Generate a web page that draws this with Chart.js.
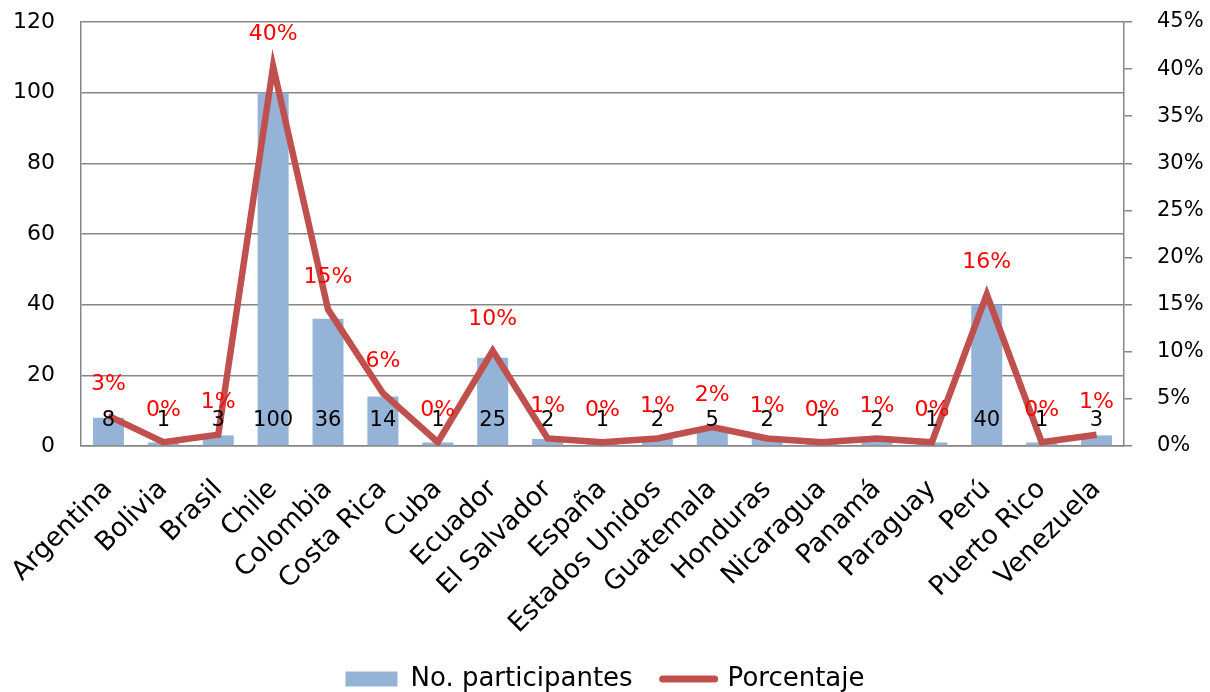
<!DOCTYPE html>
<html>
<head>
<meta charset="utf-8">
<script src="https://cdn.jsdelivr.net/npm/chart.js@4.4.1/dist/chart.umd.min.js"></script>
<style>
  html, body { margin: 0; padding: 0; background: #fff; overflow: hidden; }
</style>
</head>
<body>
<canvas id="myChart" width="1210" height="692"></canvas>
<script>
const paises = ['Argentina','Bolivia','Brasil','Chile','Colombia','Costa Rica','Cuba','Ecuador','El Salvador','España','Estados Unidos','Guatemala','Honduras','Nicaragua','Panamá','Paraguay','Perú','Puerto Rico','Venezuela']
const participantes = [8, 1, 3, 100, 36, 14, 1, 25, 2, 1, 2, 5, 2, 1, 2, 1, 40, 1, 3]
const porcentaje = [3.2, 0.4, 1.2, 40.3, 14.5, 5.6, 0.4, 10.1, 0.8, 0.4, 0.8, 2.0, 0.8, 0.4, 0.8, 0.4, 16.1, 0.4, 1.2]
const ticksIzq = [0, 20, 40, 60, 80, 100, 120]
const ticksDer = [0, 5, 10, 15, 20, 25, 30, 35, 40, 45]

const FONT = "'DejaVu Sans', sans-serif"
const GRIS = '#868686'

// etiquetas de datos (valores y porcentajes)
const etiquetas = {
    id: 'etiquetas',
    afterDatasetsDraw(chart) {
        const ctx = chart.ctx
        const yIzq = chart.scales.y
        ctx.save()
        ctx.textAlign = 'center'
        ctx.textBaseline = 'middle'
        const barras = chart.getDatasetMeta(0).data
        ctx.font = '21px ' + FONT
        ctx.fillStyle = '#000'
        barras.forEach((bar, i) => {
            ctx.fillText(participantes[i], bar.x, yIzq.getPixelForValue(0) - 25)
        })
        const puntos = chart.getDatasetMeta(1).data
        ctx.font = '22px ' + FONT
        ctx.fillStyle = '#FF0000'
        puntos.forEach((p, i) => {
            ctx.fillText(Math.round(porcentaje[i]) + '%', p.x, p.y - 32)
        })
        ctx.restore()
    }
}

// sin relleno extra por las etiquetas de los ejes
function sinPadding(scale) {
    scale.paddingTop = 0
    scale.paddingBottom = 0
    scale.paddingLeft = 0
    scale.paddingRight = 0
}

const ctx = document.getElementById('myChart')
new Chart(ctx, {
    data: {
        labels: paises,
        datasets: [{
            type: 'bar',
            label: 'No. participantes',
            data: participantes,
            backgroundColor: '#95B3D7',
            yAxisID: 'y',
            barPercentage: 0.565,
            categoryPercentage: 1,
            order: 2
        }, {
            type: 'line',
            label: 'Porcentaje',
            data: porcentaje,
            borderColor: '#C0504D',
            backgroundColor: '#C0504D',
            borderWidth: 6.5,
            pointRadius: 0,
            tension: 0,
            yAxisID: 'y1',
            order: 1
        }]
    },
    options: {
        responsive: false,
        animation: false,
        devicePixelRatio: 1,
        layout: { padding: { top: 22, right: 0, left: 0, bottom: -10 } },
        plugins: {
            tooltip: { enabled: false },
            legend: {
                position: 'bottom',
                labels: {
                    font: { family: FONT, size: 26 },
                    color: '#000',
                    usePointStyle: true,
                    pointStyleWidth: 52,
                    boxHeight: 15,
                    padding: 30,
                    generateLabels(chart) {
                        return [{
                            text: 'No. participantes', fillStyle: '#95B3D7', strokeStyle: '#95B3D7',
                            lineWidth: 0, pointStyle: 'rect', datasetIndex: 0, fontColor: '#000'
                        }, {
                            text: 'Porcentaje', fillStyle: '#C0504D', strokeStyle: '#C0504D',
                            lineWidth: 7, lineCap: 'round', pointStyle: 'line', datasetIndex: 1, fontColor: '#000'
                        }]
                    }
                }
            }
        },
        scales: {
            x: {
                offset: true,
                grid: { display: false },
                border: { color: GRIS, width: 1.5 },
                ticks: {
                    font: { family: FONT, size: 26.5 },
                    color: '#000',
                    minRotation: 45,
                    maxRotation: 45,
                    autoSkip: false,
                    padding: 20
                },
                afterFit(scale) {
                    scale.height = 190
                    sinPadding(scale)
                }
            },
            y: {
                position: 'left',
                min: 0,
                max: 120,
                afterBuildTicks(scale) { scale.ticks = ticksIzq.map(v => ({ value: v })) },
                grid: { color: GRIS, lineWidth: 1.5, drawTicks: false },
                border: { color: GRIS, width: 1.5 },
                ticks: {
                    font: { family: FONT, size: 22 },
                    color: '#000',
                    padding: 26
                },
                afterFit(scale) {
                    scale.width = 81
                    sinPadding(scale)
                }
            },
            y1: {
                position: 'right',
                min: 0,
                max: 45,
                afterBuildTicks(scale) { scale.ticks = ticksDer.map(v => ({ value: v })) },
                grid: { drawOnChartArea: false, color: GRIS, lineWidth: 1.5, tickLength: 8 },
                border: { color: GRIS, width: 1.5 },
                ticks: {
                    font: { family: FONT, size: 21 },
                    color: '#000',
                    padding: 25,
                    callback: v => v + '%'
                },
                afterFit(scale) {
                    scale.width = 86
                    sinPadding(scale)
                }
            }
        }
    },
    plugins: [etiquetas]
})
</script>
</body>
</html>
